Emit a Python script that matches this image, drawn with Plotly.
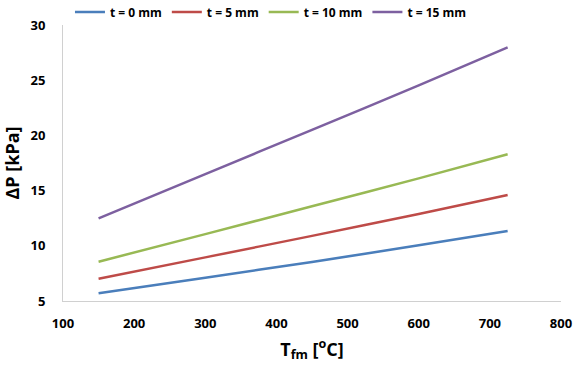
import plotly.graph_objects as go

T_fm = [150, 300, 450, 600, 725]
dp_t0 = [5.70, 7.11, 8.54, 10.05, 11.34]
dp_t5 = [7.02, 8.95, 10.90, 12.88, 14.60]
dp_t10 = [8.56, 11.06, 13.58, 16.11, 18.29]
dp_t15 = [12.49, 16.50, 20.50, 24.53, 27.98]

series_names = ["t = 0 mm", "t = 5 mm", "t = 10 mm", "t = 15 mm"]
series_vals = [dp_t0, dp_t5, dp_t10, dp_t15]
colors = ["#4a7ebb", "#be4b48", "#98b954", "#7d60a0"]

fig = go.Figure()
for name, vals, c in zip(series_names, series_vals, colors):
    fig.add_trace(go.Scatter(x=T_fm, y=vals, mode="lines", name=name,
                             line=dict(color=c, width=2.5, shape="spline", smoothing=0.6)))

font_fam = "Open Sans, Liberation Sans, Arial, sans-serif"
fig.update_layout(
    width=575, height=367,
    margin=dict(l=63, r=14, t=25, b=66, autoexpand=False),
    paper_bgcolor="white", plot_bgcolor="white",
    font=dict(family=font_fam, color="#000000"),
    showlegend=True,
    legend=dict(orientation="h", x=0.014, xanchor="left", xref="paper",
                y=1.047, yanchor="middle", yref="paper",
                font=dict(size=12, family=font_fam, weight="bold"), itemwidth=30,
                tracegroupgap=0, bgcolor="rgba(0,0,0,0)"),
    xaxis=dict(range=[100, 800], dtick=100, tick0=100, showgrid=False, zeroline=False,
               showline=True, linecolor="#d0d0d0", linewidth=1, automargin=False,
               ticks="", ticklabelstandoff=10, tickfont=dict(size=13, weight="bold"),
               title=dict(text="T<sub>fm</sub> [<sup>o</sup>C]", font=dict(size=18, weight="bold"), standoff=12)),
    yaxis=dict(range=[5, 30], dtick=5, showgrid=False, zeroline=False,
               showline=True, linecolor="#d0d0d0", linewidth=1, automargin=False,
               ticks="", ticklabelstandoff=14, tickfont=dict(size=13, weight="bold"),
               title=dict(text="ΔP [kPa]", font=dict(size=18, weight="bold"), standoff=12)),
)

fig.write_html("out.html", config={"displayModeBar": False},
               post_script="document.body.style.margin='0px';document.body.style.overflow='hidden';")
